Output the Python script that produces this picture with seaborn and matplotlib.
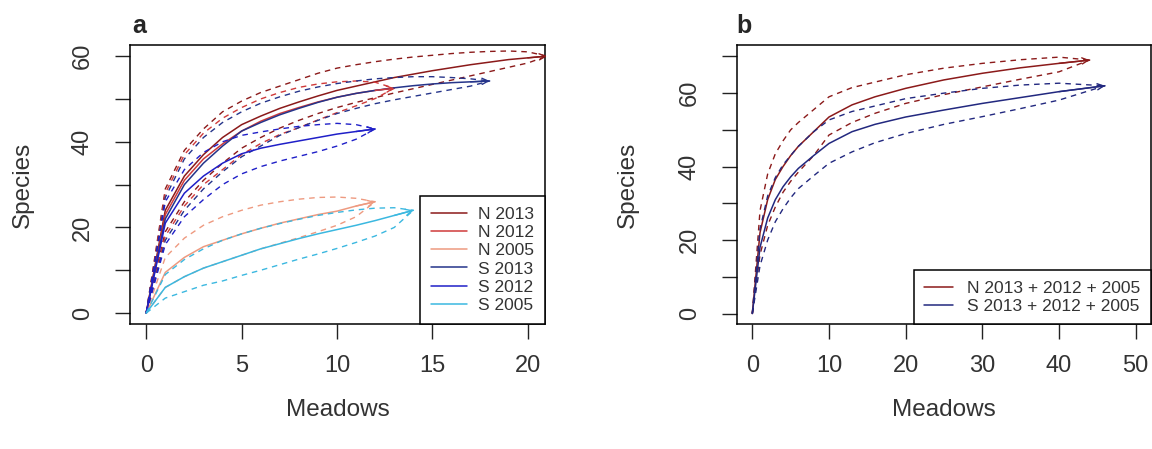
import numpy as np
import pandas as pd
import matplotlib
matplotlib.use("Agg")
import matplotlib.pyplot as plt
import seaborn as sns

# ---------------- data: panel a (rarefaction by region/year) ----------------
series_a = ["N 2013", "N 2012", "N 2005", "S 2013", "S 2012", "S 2005"]

n2013_x = list(range(0, 22))
n2013_mean = [0, 24, 32, 37, 41, 44, 46, 47.8, 49.3, 50.7, 52, 53, 54, 55, 55.8, 56.6, 57.3, 58, 58.6, 59.2, 59.6, 60]
n2013_up = [0, 29, 38, 43, 47, 49.5, 51.5, 53, 54.5, 56, 57.2, 58, 58.7, 59.3, 59.8, 60.2, 60.6, 60.9, 61.1, 61.2, 61, 60]
n2013_lo = [0, 19, 26, 31, 35, 38.5, 41, 43.2, 45, 46.6, 48, 49.2, 50.3, 51.4, 52.4, 53.4, 54.4, 55.4, 56.4, 57.4, 58.4, 60]

n2012_x = list(range(0, 14))
n2012_mean = [0, 23, 31, 36, 39.5, 42.5, 44.8, 46.6, 48, 49.3, 50.4, 51.3, 52, 52.5]
n2012_up = [0, 28, 37, 42, 45.5, 48, 50, 51.5, 52.7, 53.5, 54, 54.2, 53.9, 52.5]
n2012_lo = [0, 18, 25, 30, 33.5, 37, 39.6, 41.7, 43.3, 45.1, 46.8, 48.4, 50.1, 52.5]

n2005_x = list(range(0, 13))
n2005_mean = [0, 9.5, 13, 15.5, 17, 18.5, 19.8, 21, 22, 23, 23.8, 25, 26]
n2005_up = [0, 13, 17.5, 20.5, 22.5, 24, 25.2, 26, 26.6, 27, 27.1, 26.8, 26]
n2005_lo = [0, 6, 8.5, 10.5, 12, 13.5, 15, 16.3, 17.6, 19, 20.5, 22.5, 26]

s2013_x = list(range(0, 19))
s2013_mean = [0, 22, 30, 35, 39, 42.5, 44.5, 46.3, 47.8, 49.2, 50.4, 51.3, 52, 52.6, 53.1, 53.5, 53.8, 54, 54.2]
s2013_up = [0, 27, 36, 41, 44.5, 47, 49, 50.5, 51.8, 52.8, 53.6, 54.2, 54.7, 55, 55.2, 55.2, 55, 54.7, 54.2]
s2013_lo = [0, 17, 24, 29, 33, 36.5, 39, 41.5, 43.3, 45, 46.6, 47.8, 48.9, 49.8, 50.6, 51.4, 52.2, 53, 54.2]

s2012_x = list(range(0, 13))
s2012_mean = [0, 21, 28, 32, 35, 37.2, 38.5, 39.4, 40.2, 41, 41.8, 42.4, 43]
s2012_up = [0, 26, 33.5, 37.5, 40, 41.5, 42.3, 43, 43.6, 44, 44.3, 44, 43]
s2012_lo = [0, 16, 22.5, 26.5, 30, 32.5, 34.2, 35.5, 36.6, 37.7, 39, 40.6, 43]

s2005_x = list(range(0, 15))
s2005_mean = [0, 6, 8.5, 10.5, 12, 13.5, 15, 16.2, 17.4, 18.5, 19.5, 20.5, 21.6, 22.8, 24]
s2005_up = [0, 9, 12.5, 15, 17, 18.5, 19.8, 20.9, 21.9, 22.8, 23.5, 24.1, 24.5, 24.6, 24]
s2005_lo = [0, 3.5, 5, 6.5, 7.5, 8.8, 10, 11.3, 12.6, 13.8, 15.1, 16.5, 18, 20, 24]

# ---------------- data: panel b (pooled years) ----------------
series_b = ["N 2013 + 2012 + 2005", "S 2013 + 2012 + 2005"]

nall_x = [0, 1, 2, 3, 4, 5, 6, 8, 10, 13, 16, 20, 25, 30, 35, 40, 44]
nall_mean = [0, 22, 31, 36.5, 40, 43, 45.5, 49.5, 53.5, 56.8, 59, 61.3, 63.6, 65.4, 66.9, 68.1, 69]
nall_up = [0, 28, 38, 43.5, 47, 50, 52, 55.5, 59, 61.5, 63, 65, 66.8, 68.1, 69.1, 69.8, 69]
nall_lo = [0, 16, 24, 29, 33, 36, 38.5, 43, 48.6, 52, 54.5, 57.2, 59.6, 61.7, 63.8, 65.8, 69]

sall_x = [0, 1, 2, 3, 4, 5, 6, 8, 10, 13, 16, 20, 25, 30, 35, 40, 46]
sall_mean = [0, 18, 26, 31, 34.5, 37.2, 39.5, 43, 46.3, 49.5, 51.5, 53.5, 55.4, 57.2, 58.8, 60.4, 62]
sall_up = [0, 23, 32, 37, 40.5, 43, 45.5, 49.5, 52.7, 55, 56.5, 58.5, 60, 61.3, 62.2, 62.7, 62]
sall_lo = [0, 13, 20, 25, 28.5, 31.5, 34, 37.5, 40.9, 44, 46.5, 49, 51.5, 53.6, 55.8, 58.1, 62]

# ---------------- styling ----------------
sns.set_style("ticks")
plt.rcParams["font.family"] = ["Liberation Sans", "DejaVu Sans"]

colors_a = ["#8B1A1A", "#D03A3A", "#EE9A80", "#25348A", "#1F1FC8", "#3BB8E0"]
colors_b = ["#8B1A1A", "#22287F"]

fig = plt.figure(figsize=(11.52, 4.49), dpi=100)
W, H = 1152, 449
ax_a = fig.add_axes([130 / W, (H - 324) / H, (545 - 130) / W, (324 - 45) / H])
ax_b = fig.add_axes([737 / W, (H - 324) / H, (1151 - 737) / W, (324 - 45) / H])

dash = (0, (4, 3.5))


def draw_curve(ax, x, mean, up, lo, color, label):
    sns.lineplot(x=x, y=up, ax=ax, color=color, linestyle=dash, lw=1.0,
                 estimator=None, sort=False)
    sns.lineplot(x=x, y=lo, ax=ax, color=color, linestyle=dash, lw=1.0,
                 estimator=None, sort=False)
    sns.lineplot(x=x, y=mean, ax=ax, color=color, lw=1.1,
                 estimator=None, sort=False, label=label)
    ax.annotate("", xy=(x[-1], mean[-1]), xytext=(x[-2], mean[-2]),
                arrowprops=dict(arrowstyle="->", color=color, lw=1.0,
                                shrinkA=0, shrinkB=0, mutation_scale=11),
                annotation_clip=False)


curves_a = [
    (n2013_x, n2013_mean, n2013_up, n2013_lo),
    (n2012_x, n2012_mean, n2012_up, n2012_lo),
    (n2005_x, n2005_mean, n2005_up, n2005_lo),
    (s2013_x, s2013_mean, s2013_up, s2013_lo),
    (s2012_x, s2012_mean, s2012_up, s2012_lo),
    (s2005_x, s2005_mean, s2005_up, s2005_lo),
]
for (x, m, u, l), c, lab in zip(curves_a, colors_a, series_a):
    draw_curve(ax_a, x, m, u, l, c, lab)

curves_b = [
    (nall_x, nall_mean, nall_up, nall_lo),
    (sall_x, sall_mean, sall_up, sall_lo),
]
for (x, m, u, l), c, lab in zip(curves_b, colors_b, series_b):
    draw_curve(ax_b, x, m, u, l, c, lab)

ax_a.set_xlim(-0.85, 20.9)
ax_a.set_ylim(-2.55, 62.6)
ax_a.set_xticks([0, 5, 10, 15, 20])
ax_a.set_yticks([0, 10, 20, 30, 40, 50, 60])
ax_a.set_yticklabels(["0", "", "20", "", "40", "", "60"])

ax_b.set_xlim(-2, 52)
ax_b.set_ylim(-2.85, 73.1)
ax_b.set_xticks([0, 10, 20, 30, 40, 50])
ax_b.set_yticks([0, 10, 20, 30, 40, 50, 60, 70])
ax_b.set_yticklabels(["0", "", "20", "", "40", "", "60", ""])

for ax, letter, lx in [(ax_a, "a", 132), (ax_b, "b", 736)]:
    for sp in ax.spines.values():
        sp.set_visible(True)
        sp.set_color("black")
        sp.set_linewidth(1.1)
    ax.tick_params(axis="both", direction="out", length=11, width=1.0,
                   color="#222222", labelsize=17, labelcolor="#333333")
    ax.tick_params(axis="x", pad=11)
    ax.tick_params(axis="y", pad=15)
    for t in ax.get_yticklabels():
        t.set_rotation(90)
        t.set_va("center")
    ax.set_xlabel("Meadows", fontsize=17.5, color="#333333")
    ax.set_ylabel("Species", fontsize=17.5, color="#333333")
    ax.xaxis.set_label_coords(0.5, -0.308)
    ax.xaxis.label.set_va("center")
    ax.yaxis.set_label_coords(-0.258 if ax is ax_a else -0.263, 0.5)
    ax.yaxis.label.set_va("center")
    fig.text(lx / W, 1 - 33 / H, letter, fontsize=18, fontweight="bold",
             ha="left", va="baseline")

leg_a = ax_a.legend(loc="lower right", borderaxespad=0, fancybox=False,
                    edgecolor="black", framealpha=1, fontsize=12.5,
                    labelspacing=0.17, handlelength=2.1, handletextpad=0.6,
                    borderpad=0.65)
leg_b = ax_b.legend(loc="lower right", borderaxespad=0, fancybox=False,
                    edgecolor="black", framealpha=1, fontsize=12.5,
                    labelspacing=0.15, handlelength=1.7, handletextpad=0.8,
                    borderpad=0.6)
for leg in (leg_a, leg_b):
    leg.get_frame().set_linewidth(1.1)
    for t in leg.get_texts():
        t.set_color("#333333")

fig.savefig("out.png", dpi=100)
